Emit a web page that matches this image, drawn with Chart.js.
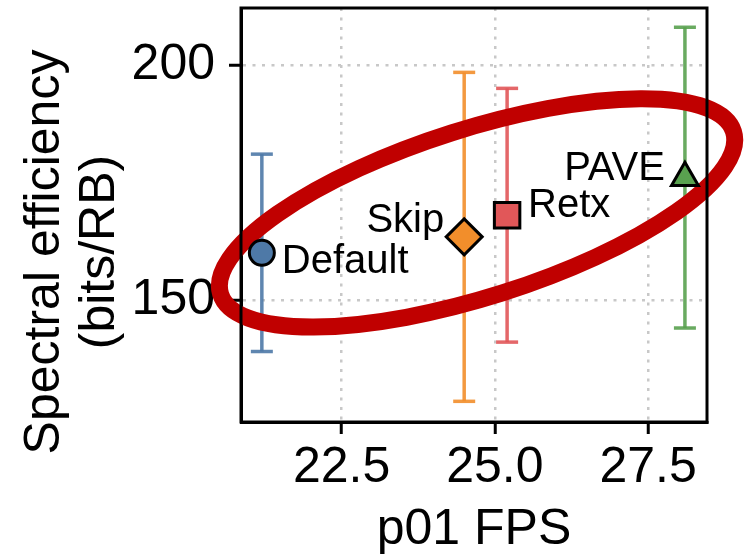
<!DOCTYPE html>
<html>
<head>
<meta charset="utf-8">
<script src="https://cdn.jsdelivr.net/npm/chart.js@4.4.1/dist/chart.umd.min.js"></script>
<style>
  html, body { margin: 0; padding: 0; background: #fff; }
</style>
</head>
<body>
<canvas id="chart" width="746" height="556"></canvas>
<script>
// data
const methods  = ['Default', 'Skip', 'Retx', 'PAVE'];
const fpsP01   = [21.2, 24.5, 25.2, 28.1];
const specEff  = [160, 163.4, 168, 176];
const specErr  = [21, 35, 27, 32];
const xTicks   = [22.5, 25.0, 27.5];
const yTicks   = [150, 200];
const xRange   = [20.86, 28.46];
const yRange   = [124.0, 212.1];
// highlight ring, centre in data units
const ringCentre = [24.71, 168.5];

const colors  = ['#4e79a7', '#f28e2b', '#e15759', '#59a14f'];
const barCols = ['rgba(78,121,167,0.9)', 'rgba(242,142,43,0.9)', 'rgba(225,87,89,0.9)', 'rgba(89,161,79,0.9)'];
const shapes  = ['circle', 'rectRot', 'rect', 'triangle'];
const sizes   = [12.5, 18, 18, 15.5];
// label placement relative to the marker: [dx, dy, align]
const labelPos = [[20, 20, 'left'], [-20, -5, 'right'], [21, 2, 'left'], [-20, 2, 'right']];

const FONT = "'Liberation Sans', Arial, sans-serif";

const datasets = [];
methods.forEach((m, i) => {
  datasets.push({
    type: 'line',
    label: m + ' err',
    data: [{x: fpsP01[i], y: specEff[i] - specErr[i]}, {x: fpsP01[i], y: specEff[i] + specErr[i]}],
    borderColor: barCols[i],
    borderWidth: 3.5,
    pointStyle: 'line',
    pointRadius: 11,
    pointBorderWidth: 3.5,
    pointBorderColor: barCols[i],
    showLine: true,
    order: 2
  });
});
methods.forEach((m, i) => {
  datasets.push({
    type: 'scatter',
    label: m,
    data: [{x: fpsP01[i], y: specEff[i]}],
    pointStyle: shapes[i],
    pointRadius: sizes[i],
    backgroundColor: colors[i],
    borderColor: '#000',
    pointBorderWidth: 3,
    order: 1
  });
});

let ringDone = false;
const extras = {
  id: 'extras',
  beforeDatasetsDraw() { ringDone = false; },
  beforeDatasetDraw(chart, args) {
    if (ringDone || args.meta.type !== 'scatter') return;
    ringDone = true;
    const {ctx, scales} = chart;
    ctx.save();
    ctx.beginPath();
    ctx.ellipse(scales.x.getPixelForValue(ringCentre[0]), scales.y.getPixelForValue(ringCentre[1]),
                269, 84, -17.6 * Math.PI / 180, 0, Math.PI * 2);
    ctx.strokeStyle = '#c00000';
    ctx.lineWidth = 17;
    ctx.stroke();
    ctx.restore();
  },
  afterDatasetsDraw(chart) {
    const {ctx, chartArea: a} = chart;
    ctx.save();
    // frame
    ctx.strokeStyle = '#000';
    ctx.lineWidth = 3;
    ctx.strokeRect(a.left, a.top, a.right - a.left, a.bottom - a.top);
    // point labels
    ctx.fillStyle = '#000';
    ctx.font = '40px ' + FONT;
    ctx.textBaseline = 'alphabetic';
    methods.forEach((m, i) => {
      const pt = chart.getDatasetMeta(methods.length + i).data[0];
      const [dx, dy, al] = labelPos[i];
      ctx.textAlign = al;
      ctx.fillText(m, pt.x + dx, pt.y + dy);
    });
    // y title
    ctx.font = '50px ' + FONT;
    ctx.textAlign = 'center';
    ctx.textBaseline = 'middle';
    ctx.translate(45, 252);
    ctx.rotate(-Math.PI / 2);
    ctx.fillText('Spectral efficiency', 0, 0);
    ctx.fillText('(bits/RB)', 0, 55);
    ctx.restore();
  }
};

new Chart(document.getElementById('chart'), {
  type: 'scatter',
  data: { datasets },
  plugins: [extras],
  options: {
    responsive: false,
    animation: false,
    devicePixelRatio: 1,
    layout: { autoPadding: false, padding: { left: 0, top: 8, right: 39, bottom: 0 } },
    plugins: { legend: { display: false }, tooltip: { enabled: false } },
    scales: {
      x: {
        type: 'linear',
        min: xRange[0], max: xRange[1],
        afterBuildTicks: s => { s.ticks = xTicks.map(v => ({value: v})); },
        afterFit: s => { s.height = 134; s.paddingLeft = 0; s.paddingRight = 0; },
        ticks: { callback: v => v.toFixed(1), color: '#000', padding: 4, maxRotation: 0, autoSkip: false,
                 font: { family: FONT, size: 50, lineHeight: 1.2 } },
        grid: { color: '#c8c8c8', lineWidth: 2.5, tickLength: 12, tickColor: '#000', tickWidth: 3 },
        border: { display: true, color: '#000', width: 3, dash: [3, 6.5] },
        title: { display: true, text: 'p01 FPS', color: '#000', padding: 0,
                 font: { family: FONT, size: 50, lineHeight: 1.05 } }
      },
      y: {
        type: 'linear',
        min: yRange[0], max: yRange[1],
        afterBuildTicks: s => { s.ticks = yTicks.map(v => ({value: v})); },
        afterFit: s => { s.width = 241; s.paddingTop = 0; s.paddingBottom = 0; },
        ticks: { callback: v => String(v), color: '#000', padding: 14,
                 font: { family: FONT, size: 50, lineHeight: 1.2 } },
        grid: { color: '#c8c8c8', lineWidth: 2.5, tickLength: 12, tickColor: '#000', tickWidth: 3 },
        border: { display: true, color: '#000', width: 3, dash: [3, 6.5] }
      }
    }
  }
});
</script>
</body>
</html>
